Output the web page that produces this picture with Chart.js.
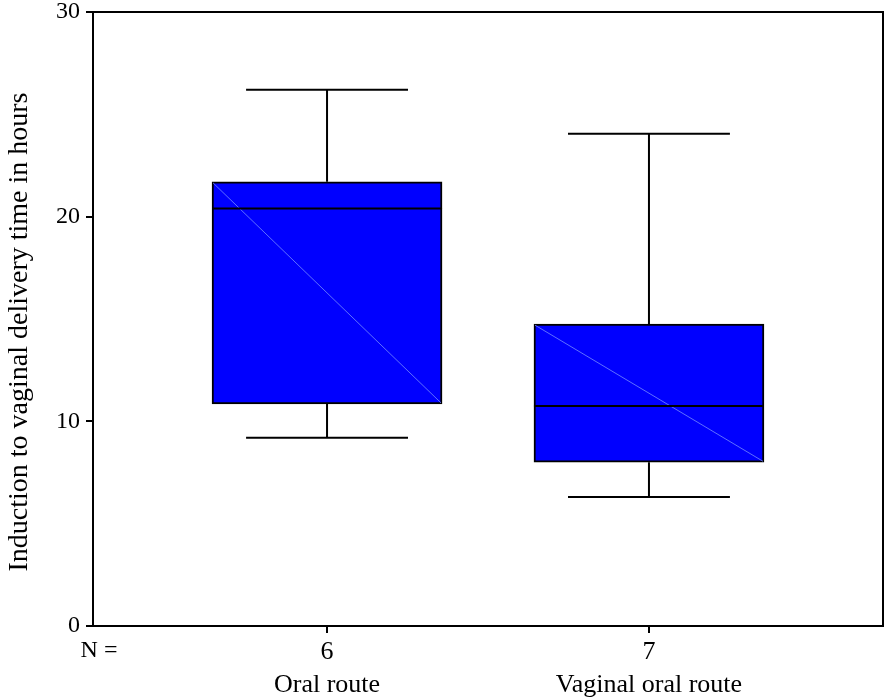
<!DOCTYPE html>
<html>
<head>
<meta charset="utf-8">
<script src="https://cdn.jsdelivr.net/npm/chart.js@4/dist/chart.umd.min.js"></script>
<style>
  html, body { margin: 0; padding: 0; background: #fff; }
  #wrap { width: 886px; height: 697px; }
</style>
</head>
<body>
<div id="wrap"><canvas id="c" width="886" height="697"></canvas></div>
<script>
// Groups and their sample sizes
const categories = ['Oral route', 'Vaginal oral route'];
const counts = [6, 7];

// Box-plot summary per group (hours)
const whiskerLow  = [9.2, 6.3];
const q1          = [10.85, 8.0];
const median      = [20.4, 10.75];
const q3          = [21.7, 14.75];
const whiskerHigh = [26.2, 24.05];

// Value axis ticks and title
const yTicks = [0, 10, 20, 30];
const yTitle = 'Induction to vaginal delivery time in hours';

const SERIF = '"Liberation Serif", "Times New Roman", serif';

// Whiskers, caps, median line, the frame around the plot and the axis title
const boxParts = {
  id: 'boxParts',
  afterDatasetsDraw(chart) {
    const { ctx, scales: { y } } = chart;
    const meta = chart.getDatasetMeta(0);
    ctx.save();
    meta.data.forEach((bar, i) => {
      const half = bar.width / 2;
      const left = bar.x - half, right = bar.x + half;
      const top = y.getPixelForValue(q3[i]);
      const bottom = y.getPixelForValue(q1[i]);
      const capHalf = bar.width * 0.352;

      // faint diagonal streak inside the box
      ctx.strokeStyle = 'rgba(110,130,255,0.85)';
      ctx.lineWidth = 1;
      ctx.beginPath();
      ctx.moveTo(left + 1, top + 1);
      ctx.lineTo(right - 1, bottom - 1);
      ctx.stroke();

      ctx.strokeStyle = '#000';
      ctx.lineWidth = 2;
      // median
      const ym = y.getPixelForValue(median[i]);
      ctx.beginPath();
      ctx.moveTo(left, ym); ctx.lineTo(right, ym);
      ctx.stroke();

      // whiskers
      const yHi = y.getPixelForValue(whiskerHigh[i]);
      const yLo = y.getPixelForValue(whiskerLow[i]);
      ctx.beginPath();
      ctx.moveTo(bar.x, top); ctx.lineTo(bar.x, yHi);
      ctx.moveTo(bar.x - capHalf, yHi); ctx.lineTo(bar.x + capHalf, yHi);
      ctx.moveTo(bar.x, bottom); ctx.lineTo(bar.x, yLo);
      ctx.moveTo(bar.x - capHalf, yLo); ctx.lineTo(bar.x + capHalf, yLo);
      ctx.stroke();
    });
    ctx.restore();
  },
  afterDraw(chart) {
    const { ctx, chartArea: a } = chart;
    ctx.save();
    ctx.strokeStyle = '#000';
    ctx.lineWidth = 2;
    ctx.beginPath();
    ctx.moveTo(a.left, a.top); ctx.lineTo(a.right, a.top); ctx.lineTo(a.right, a.bottom);
    ctx.stroke();

    ctx.fillStyle = '#000';
    ctx.textAlign = 'center';
    ctx.textBaseline = 'middle';
    // "N =" label in line with the counts
    ctx.font = '24px ' + SERIF;
    ctx.fillText('N =', a.left + 6, a.bottom + 25);

    // rotated value-axis title
    ctx.font = '28px ' + SERIF;
    ctx.translate(20, (a.top + a.bottom) / 2 + 13);
    ctx.rotate(-Math.PI / 2);
    ctx.fillText(yTitle, 0, 0);
    ctx.restore();
  }
};

new Chart(document.getElementById('c'), {
  type: 'bar',
  data: {
    datasets: [{
      data: categories.map((c, i) => ({ x: i, y: [q1[i], q3[i]] })),
      backgroundColor: '#0000ff',
      borderColor: '#000',
      borderWidth: 2,
      borderSkipped: false,
      barThickness: 230
    }]
  },
  options: {
    responsive: false,
    animation: false,
    layout: { padding: { top: 12, right: 3, left: 0, bottom: 0 } },
    plugins: { legend: { display: false }, tooltip: { enabled: false } },
    scales: {
      x: {
        type: 'linear',
        min: -0.727,
        max: 1.727,
        offset: false,
        afterBuildTicks(axis) { axis.ticks = categories.map((c, i) => ({ value: i })); },
        afterFit(axis) {
          axis.height = 71;
          axis.paddingLeft = 0; axis.paddingRight = 0;
        },
        ticks: {
          callback: (v) => [String(counts[v]), categories[v]],
          color: '#000',
          font: { family: SERIF, size: 26, lineHeight: 1.25 },
          padding: 3,
          maxRotation: 0,
          autoSkip: false
        },
        grid: { offset: false, drawOnChartArea: false, drawTicks: true, tickLength: 7, color: '#000', lineWidth: 2 },
        border: { display: true, color: '#000', width: 2 }
      },
      y: {
        min: 0,
        max: 30,
        afterBuildTicks(axis) { axis.ticks = yTicks.map(v => ({ value: v })); },
        afterFit(axis) {
          axis.width = 93;
          axis.paddingTop = 0; axis.paddingBottom = 0;
        },
        ticks: {
          color: '#000',
          font: { family: SERIF, size: 24 },
          padding: 6
        },
        grid: { drawOnChartArea: false, drawTicks: true, tickLength: 7, color: '#000', lineWidth: 2 },
        border: { display: true, color: '#000', width: 2 }
      }
    }
  },
  plugins: [boxParts]
});
</script>
</body>
</html>
